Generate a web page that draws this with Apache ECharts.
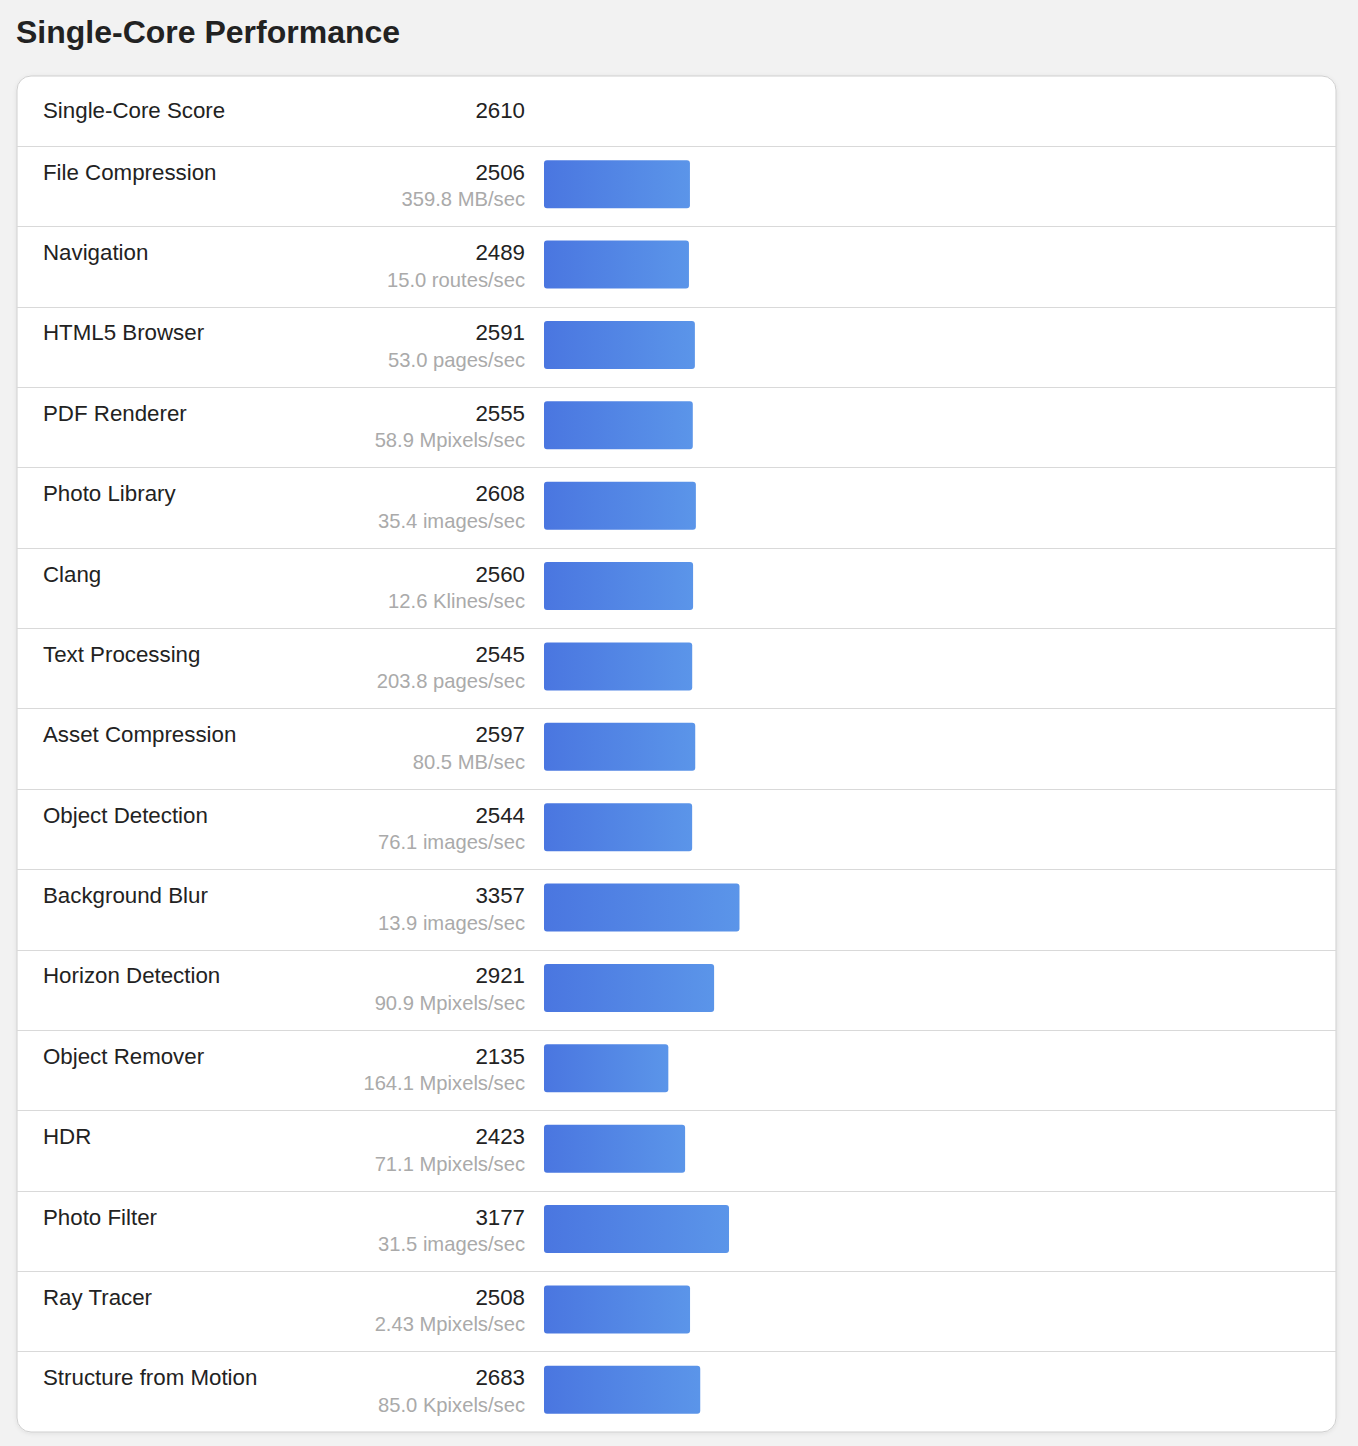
<!DOCTYPE html>
<html>
<head>
<meta charset="utf-8">
<script src="https://cdn.jsdelivr.net/npm/echarts@6/dist/echarts.min.js"></script>
<style>
html,body{margin:0;padding:0;background:#f2f2f2;}
#main{width:1358px;height:1446px;}
</style>
</head>
<body>
<div id="main"></div>
<script>
//数据
var headerName = 'Single-Core Score';
var headerScore = 2610;
var names = ['File Compression','Navigation','HTML5 Browser','PDF Renderer','Photo Library','Clang',
    'Text Processing','Asset Compression','Object Detection','Background Blur','Horizon Detection',
    'Object Remover','HDR','Photo Filter','Ray Tracer','Structure from Motion'];
var scores = [2506,2489,2591,2555,2608,2560,2545,2597,2544,3357,2921,2135,2423,3177,2508,2683];
var units = ['359.8 MB/sec','15.0 routes/sec','53.0 pages/sec','58.9 Mpixels/sec','35.4 images/sec',
    '12.6 Klines/sec','203.8 pages/sec','80.5 MB/sec','76.1 images/sec','13.9 images/sec',
    '90.9 Mpixels/sec','164.1 Mpixels/sec','71.1 Mpixels/sec','31.5 images/sec','2.43 Mpixels/sec',
    '85.0 Kpixels/sec'];

var FONT = '"Liberation Sans", Arial, sans-serif';
var dom = document.getElementById('main');
var myChart = echarts.init(dom, null, {renderer: 'svg'});

// 每行上边的分隔线（最后一行下面是卡片边框，不画）
var sepLines = names.map(function (n, i) { return {yAxis: i}; });

var option = {
    backgroundColor: '#f2f2f2',
    animation: false,
    textStyle: {fontFamily: FONT},
    title: {
        text: 'Single-Core Performance',
        left: 16, top: 16, padding: 0,
        textStyle: {fontSize: 32, fontWeight: 'bold', color: '#222', fontFamily: FONT}
    },
    graphic: [
        {
            type: 'rect', z: -10,
            shape: {x: 17, y: 76, width: 1319, height: 1356, r: 14},
            style: {fill: '#fff', stroke: '#cfcfcf', lineWidth: 1,
                shadowBlur: 4, shadowOffsetY: 1, shadowColor: 'rgba(0,0,0,0.08)'}
        },
        {
            type: 'text', z: 10, x: 43, y: 110,
            style: {text: headerName, font: '22.3px ' + FONT, fill: '#222',
                textAlign: 'left', textVerticalAlign: 'middle'}
        },
        {
            type: 'text', z: 10, x: 525, y: 110,
            style: {text: String(headerScore), font: '22.3px ' + FONT, fill: '#222',
                textAlign: 'right', textVerticalAlign: 'middle'}
        }
    ],
    grid: [
        {left: 544, right: 22, top: 144, height: 1286},
        {left: 17, right: 22, top: 146, height: 1286}
    ],
    xAxis: [
        {gridIndex: 0, type: 'value', min: 0, max: 13600, show: false},
        {gridIndex: 1, type: 'value', min: 0, max: 1, show: false}
    ],
    yAxis: [
        {
            gridIndex: 0, type: 'category', inverse: true, data: names,
            axisLine: {show: false}, axisTick: {show: false}, splitLine: {show: false},
            axisLabel: {
                margin: 19,
                padding: [3, 0, 0, 0],
                formatter: function (v, i) {
                    return '{n|' + names[i] + '}{s|' + scores[i] + '}\n{u|' + units[i] + '}';
                },
                rich: {
                    n: {fontSize: 22.3, color: '#222', lineHeight: 27, width: 400, align: 'left', fontFamily: FONT},
                    s: {fontSize: 22.3, color: '#222', lineHeight: 27, width: 82, align: 'right', fontFamily: FONT},
                    u: {fontSize: 20.2, color: '#aaa', lineHeight: 27, width: 482, align: 'right', fontFamily: FONT}
                }
            }
        },
        {
            gridIndex: 1, type: 'value', inverse: true, min: 0, max: names.length, show: false
        }
    ],
    series: [
        {
            type: 'bar',
            xAxisIndex: 0, yAxisIndex: 0,
            data: scores,
            barWidth: 48,
            itemStyle: {
                borderRadius: 3,
                color: new echarts.graphic.LinearGradient(0, 0, 1, 0, [
                    {offset: 0, color: '#4a76e0'},
                    {offset: 1, color: '#5b95e9'}
                ])
            }
        },
        {
            type: 'line',
            xAxisIndex: 1, yAxisIndex: 1,
            data: [],
            silent: true,
            markLine: {
                silent: true,
                animation: false,
                symbol: ['none', 'none'],
                label: {show: false},
                emphasis: {disabled: true},
                lineStyle: {type: 'solid', color: '#d9d9d9', width: 1},
                data: sepLines
            }
        }
    ]
};
myChart.setOption(option, true);
</script>
</body>
</html>
